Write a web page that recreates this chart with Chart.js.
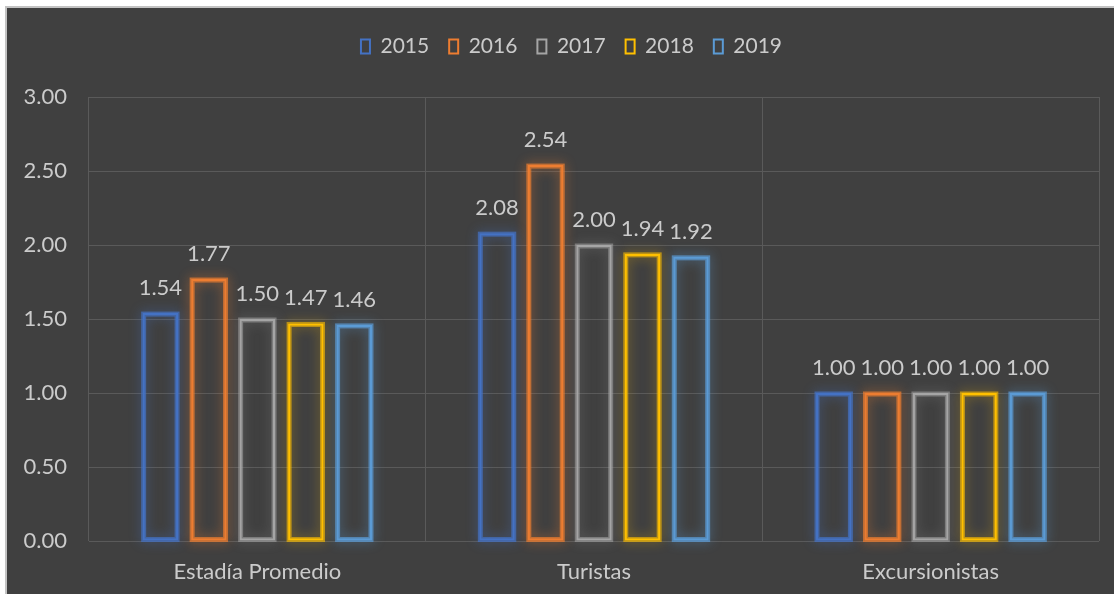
<!DOCTYPE html>
<html>
<head>
<meta charset="utf-8">
<script src="https://cdn.jsdelivr.net/npm/chart.js@4"></script>
<style>
    html, body { margin: 0; padding: 0; background: #ffffff; width: 1114px; height: 594px; overflow: hidden; }
    #box {
        position: absolute; left: 5px; top: 6px; width: 1109px; height: 588px;
        box-sizing: border-box; background: #404040;
        border-left: 2px solid #c3c3c3; border-top: 2px solid #c3c3c3;
    }
    #stayChart { position: absolute; left: 0; top: 0; }
</style>
</head>
<body>
<div id="box"></div>
<canvas id="stayChart" width="1114" height="594"></canvas>
<script>
const categories = ['Estadía Promedio', 'Turistas', 'Excursionistas'];
const years = ['2015', '2016', '2017', '2018', '2019'];
const values2015 = [1.54, 2.08, 1.00];
const values2016 = [1.77, 2.54, 1.00];
const values2017 = [1.50, 2.00, 1.00];
const values2018 = [1.47, 1.94, 1.00];
const values2019 = [1.46, 1.92, 1.00];
const seriesValues = [values2015, values2016, values2017, values2018, values2019];

const yearColors = ['#4472C4', '#ED7D31', '#A5A5A5', '#FFC000', '#5B9BD5'];
const glowColors = ['rgba(68,114,196,0.7)', 'rgba(237,125,49,0.7)', 'rgba(165,165,165,0.55)', 'rgba(255,192,0,0.6)', 'rgba(91,155,213,0.7)'];
const textColor = '#cbcbcb';
const gridColor = '#5a5a5a';
const fontFamily = 'Lato, "Open Sans", sans-serif';

// soft glow behind each outlined bar
const barGlow = {
    id: 'barGlow',
    beforeDatasetDraw(chart, args) {
        const ctx = chart.ctx;
        const i = args.index;
        ctx.save();
        ctx.shadowColor = glowColors[i];
        ctx.shadowBlur = 12;
        ctx.strokeStyle = glowColors[i];
        ctx.lineWidth = 5;
        args.meta.data.forEach(bar => {
            const p = bar.getProps(['x', 'y', 'base', 'width'], true);
            ctx.strokeRect(p.x - p.width / 2 + 1, p.y + 1, p.width - 2, p.base - p.y - 2);
        });
        ctx.restore();
    }
};

// value labels above the bars
const valueLabels = {
    id: 'valueLabels',
    afterDatasetsDraw(chart) {
        const ctx = chart.ctx;
        ctx.save();
        ctx.fillStyle = textColor;
        ctx.font = '22px ' + fontFamily;
        ctx.textAlign = 'center';
        ctx.textBaseline = 'alphabetic';
        chart.data.datasets.forEach((ds, i) => {
            chart.getDatasetMeta(i).data.forEach((bar, j) => {
                ctx.fillText(ds.data[j].toFixed(2), bar.x, bar.y - 18);
            });
        });
        ctx.restore();
    }
};

// extra room under the legend, and legend centred on the whole box
const legendMargin = {
    id: 'legendMargin',
    beforeInit(chart) {
        const fit = chart.legend.fit;
        chart.legend.fit = function () {
            fit.bind(chart.legend)();
            this.height += 30;
        };
    },
    afterLayout(chart) {
        chart.legend.left += 22;
        chart.legend.right += 22;
    }
};

const ctx = document.getElementById('stayChart').getContext('2d');
new Chart(ctx, {
    type: 'bar',
    data: {
        labels: categories,
        datasets: years.map((year, i) => ({
            label: year,
            data: seriesValues[i],
            backgroundColor: 'transparent',
            borderColor: yearColors[i],
            borderWidth: 2,
            borderSkipped: false,
            categoryPercentage: 0.72,
            barPercentage: 0.73
        }))
    },
    options: {
        responsive: false,
        devicePixelRatio: 1,
        animation: false,
        layout: { padding: { top: 16, right: 15, left: 0, bottom: 0 } },
        scales: {
            x: {
                offset: true,
                grid: { offset: true, color: gridColor, drawTicks: false },
                border: { display: false },
                ticks: { color: textColor, font: { family: fontFamily, size: 22 }, padding: 18 },
                afterFit: scale => { scale.height = 53; }
            },
            y: {
                min: 0,
                max: 3,
                grid: { color: gridColor, drawTicks: false },
                border: { display: false },
                ticks: {
                    stepSize: 0.5,
                    color: textColor,
                    font: { family: fontFamily, size: 22 },
                    padding: 22,
                    callback: v => v.toFixed(2)
                },
                afterFit: scale => { scale.width = 89; }
            }
        },
        plugins: {
            legend: {
                position: 'top',
                labels: {
                    color: textColor,
                    font: { family: fontFamily, size: 21 },
                    boxWidth: 9,
                    boxHeight: 14,
                    padding: 20
                }
            },
            tooltip: { enabled: false }
        }
    },
    plugins: [barGlow, valueLabels, legendMargin]
});
</script>
</body>
</html>
